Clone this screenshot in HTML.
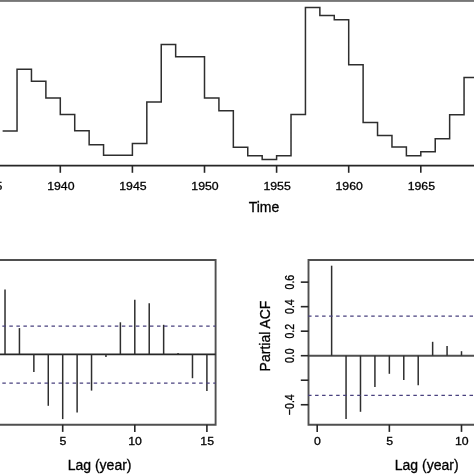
<!DOCTYPE html>
<html><head><meta charset="utf-8"><title>ts acf pacf</title>
<style>
html,body{margin:0;padding:0;background:#fff;width:474px;height:474px;overflow:hidden;}
svg{display:block;will-change:transform;filter:blur(0.3px);}
text{font-family:"Liberation Sans", sans-serif;fill:#000;stroke:#000;stroke-width:0.3px;}
</style></head><body>
<svg width="474" height="474" viewBox="0 0 474 474">
<rect x="0" y="0" width="474" height="1.9" fill="#767676"/>
<path d="M2.62 130.90 H17.04 V69.20 H31.46 V81.20 H45.88 V97.90 H60.30 V114.40 H74.72 V130.80 H89.14 V144.80 H103.56 V155.30 H117.98 V155.30 H132.40 V143.50 H146.82 V102.10 H161.24 V44.60 H175.66 V56.70 H190.08 V56.70 H204.50 V97.90 H218.92 V110.80 H233.34 V147.30 H247.76 V155.70 H262.18 V159.50 H276.60 V155.70 H291.02 V114.60 H305.44 V7.50 H319.86 V15.50 H334.28 V19.70 H348.70 V64.80 H363.12 V122.60 H377.54 V135.40 H391.96 V147.10 H406.38 V155.80 H420.80 V151.80 H435.22 V138.80 H449.64 V114.70 H464.06 V77.40 H478.48 V77.40 H492.90" fill="none" stroke="#2e2e2e" stroke-width="1.5" stroke-linejoin="miter" stroke-linecap="butt"/>
<line x1="0" y1="165.7" x2="474" y2="165.7" stroke="#262626" stroke-width="1.8"/>
<line x1="-11.80" y1="165.7" x2="-11.80" y2="172.8" stroke="#262626" stroke-width="1.6"/>
<text transform="translate(-11.30 189.8) scale(1.06 1)" font-size="11.6" text-anchor="middle">1935</text>
<line x1="60.30" y1="165.7" x2="60.30" y2="172.8" stroke="#262626" stroke-width="1.6"/>
<text transform="translate(60.80 189.8) scale(1.06 1)" font-size="11.6" text-anchor="middle">1940</text>
<line x1="132.40" y1="165.7" x2="132.40" y2="172.8" stroke="#262626" stroke-width="1.6"/>
<text transform="translate(132.90 189.8) scale(1.06 1)" font-size="11.6" text-anchor="middle">1945</text>
<line x1="204.50" y1="165.7" x2="204.50" y2="172.8" stroke="#262626" stroke-width="1.6"/>
<text transform="translate(205.00 189.8) scale(1.06 1)" font-size="11.6" text-anchor="middle">1950</text>
<line x1="276.60" y1="165.7" x2="276.60" y2="172.8" stroke="#262626" stroke-width="1.6"/>
<text transform="translate(277.10 189.8) scale(1.06 1)" font-size="11.6" text-anchor="middle">1955</text>
<line x1="348.70" y1="165.7" x2="348.70" y2="172.8" stroke="#262626" stroke-width="1.6"/>
<text transform="translate(349.20 189.8) scale(1.06 1)" font-size="11.6" text-anchor="middle">1960</text>
<line x1="420.80" y1="165.7" x2="420.80" y2="172.8" stroke="#262626" stroke-width="1.6"/>
<text transform="translate(421.30 189.8) scale(1.06 1)" font-size="11.6" text-anchor="middle">1965</text>
<text x="264.0" y="211.6" font-size="14.0" text-anchor="middle">Time</text>
<path d="M-30 260 H215.6 V424.8 H-30" fill="none" stroke="#4f4f4f" stroke-width="1.9"/>
<line x1="-30" y1="354.4" x2="215.6" y2="354.4" stroke="#262626" stroke-width="1.6"/>
<line x1="5.02" y1="354.4" x2="5.02" y2="289.4" stroke="#2e2e2e" stroke-width="1.5"/>
<line x1="19.44" y1="354.4" x2="19.44" y2="328.1" stroke="#2e2e2e" stroke-width="1.5"/>
<line x1="33.86" y1="354.4" x2="33.86" y2="372.1" stroke="#2e2e2e" stroke-width="1.5"/>
<line x1="48.28" y1="354.4" x2="48.28" y2="405.8" stroke="#2e2e2e" stroke-width="1.5"/>
<line x1="62.70" y1="354.4" x2="62.70" y2="419.1" stroke="#2e2e2e" stroke-width="1.5"/>
<line x1="77.12" y1="354.4" x2="77.12" y2="412.4" stroke="#2e2e2e" stroke-width="1.5"/>
<line x1="91.54" y1="354.4" x2="91.54" y2="390.6" stroke="#2e2e2e" stroke-width="1.5"/>
<line x1="105.96" y1="354.4" x2="105.96" y2="356.9" stroke="#2e2e2e" stroke-width="1.5"/>
<line x1="120.38" y1="354.4" x2="120.38" y2="322.3" stroke="#2e2e2e" stroke-width="1.5"/>
<line x1="134.80" y1="354.4" x2="134.80" y2="299.7" stroke="#2e2e2e" stroke-width="1.5"/>
<line x1="149.22" y1="354.4" x2="149.22" y2="303.3" stroke="#2e2e2e" stroke-width="1.5"/>
<line x1="163.64" y1="354.4" x2="163.64" y2="324.8" stroke="#2e2e2e" stroke-width="1.5"/>
<line x1="178.06" y1="354.4" x2="178.06" y2="353.0" stroke="#2e2e2e" stroke-width="1.5"/>
<line x1="192.48" y1="354.4" x2="192.48" y2="378.2" stroke="#2e2e2e" stroke-width="1.5"/>
<line x1="206.90" y1="354.4" x2="206.90" y2="391.0" stroke="#2e2e2e" stroke-width="1.5"/>
<line x1="-4.71" y1="326.0" x2="215.6" y2="326.0" stroke="#48407e" stroke-width="1.25" stroke-dasharray="3.5 3.53"/>
<line x1="-4.71" y1="383.0" x2="215.6" y2="383.0" stroke="#48407e" stroke-width="1.25" stroke-dasharray="3.5 3.53"/>
<line x1="62.70" y1="424.8" x2="62.70" y2="431.9" stroke="#262626" stroke-width="1.6"/>
<text transform="translate(63.00 445.2) scale(1.06 1)" font-size="11.6" text-anchor="middle">5</text>
<line x1="134.80" y1="424.8" x2="134.80" y2="431.9" stroke="#262626" stroke-width="1.6"/>
<text transform="translate(135.10 445.2) scale(1.06 1)" font-size="11.6" text-anchor="middle">10</text>
<line x1="206.90" y1="424.8" x2="206.90" y2="431.9" stroke="#262626" stroke-width="1.6"/>
<text transform="translate(207.20 445.2) scale(1.06 1)" font-size="11.6" text-anchor="middle">15</text>
<text x="99.6" y="469.9" font-size="14.0" text-anchor="middle">Lag (year)</text>
<path d="M480 260.0 H308.5 V424.8 H480" fill="none" stroke="#4f4f4f" stroke-width="1.9"/>
<line x1="308.5" y1="355.7" x2="480" y2="355.7" stroke="#4f4f4f" stroke-width="1.9"/>
<line x1="331.63" y1="355.7" x2="331.63" y2="265.7" stroke="#2e2e2e" stroke-width="1.5"/>
<line x1="346.06" y1="355.7" x2="346.06" y2="419.1" stroke="#2e2e2e" stroke-width="1.5"/>
<line x1="360.49" y1="355.7" x2="360.49" y2="411.8" stroke="#2e2e2e" stroke-width="1.5"/>
<line x1="374.92" y1="355.7" x2="374.92" y2="386.9" stroke="#2e2e2e" stroke-width="1.5"/>
<line x1="389.35" y1="355.7" x2="389.35" y2="373.8" stroke="#2e2e2e" stroke-width="1.5"/>
<line x1="403.78" y1="355.7" x2="403.78" y2="380.0" stroke="#2e2e2e" stroke-width="1.5"/>
<line x1="418.21" y1="355.7" x2="418.21" y2="385.2" stroke="#2e2e2e" stroke-width="1.5"/>
<line x1="432.64" y1="355.7" x2="432.64" y2="341.8" stroke="#2e2e2e" stroke-width="1.5"/>
<line x1="447.07" y1="355.7" x2="447.07" y2="346.1" stroke="#2e2e2e" stroke-width="1.5"/>
<line x1="461.50" y1="355.7" x2="461.50" y2="351.2" stroke="#2e2e2e" stroke-width="1.5"/>
<line x1="308.05" y1="316.2" x2="480" y2="316.2" stroke="#48407e" stroke-width="1.25" stroke-dasharray="3.5 3.52"/>
<line x1="308.05" y1="395.4" x2="480" y2="395.4" stroke="#48407e" stroke-width="1.25" stroke-dasharray="3.5 3.52"/>
<line x1="300.8" y1="282.14" x2="308.5" y2="282.14" stroke="#262626" stroke-width="1.6"/>
<text x="0" y="0" font-size="11.6" text-anchor="middle" transform="translate(294.3 282.14) rotate(-90) scale(0.91 1.1)">0.6</text>
<line x1="300.8" y1="306.66" x2="308.5" y2="306.66" stroke="#262626" stroke-width="1.6"/>
<text x="0" y="0" font-size="11.6" text-anchor="middle" transform="translate(294.3 306.66) rotate(-90) scale(0.91 1.1)">0.4</text>
<line x1="300.8" y1="331.18" x2="308.5" y2="331.18" stroke="#262626" stroke-width="1.6"/>
<text x="0" y="0" font-size="11.6" text-anchor="middle" transform="translate(294.3 331.18) rotate(-90) scale(0.91 1.1)">0.2</text>
<line x1="300.8" y1="355.70" x2="308.5" y2="355.70" stroke="#262626" stroke-width="1.6"/>
<text x="0" y="0" font-size="11.6" text-anchor="middle" transform="translate(294.3 355.70) rotate(-90) scale(0.91 1.1)">0.0</text>
<line x1="300.8" y1="380.22" x2="308.5" y2="380.22" stroke="#262626" stroke-width="1.6"/>
<line x1="300.8" y1="404.74" x2="308.5" y2="404.74" stroke="#262626" stroke-width="1.6"/>
<text x="0" y="0" font-size="11.6" text-anchor="middle" transform="translate(294.3 404.74) rotate(-90) scale(0.91 1.1)">−0.4</text>
<text x="0" y="0" font-size="14.0" text-anchor="middle" transform="translate(269.7 336.0) rotate(-90)">Partial ACF</text>
<line x1="317.20" y1="424.8" x2="317.20" y2="431.9" stroke="#262626" stroke-width="1.6"/>
<text transform="translate(317.50 445.2) scale(1.06 1)" font-size="11.6" text-anchor="middle">0</text>
<line x1="389.35" y1="424.8" x2="389.35" y2="431.9" stroke="#262626" stroke-width="1.6"/>
<text transform="translate(389.65 445.2) scale(1.06 1)" font-size="11.6" text-anchor="middle">5</text>
<line x1="461.50" y1="424.8" x2="461.50" y2="431.9" stroke="#262626" stroke-width="1.6"/>
<text transform="translate(461.80 445.2) scale(1.06 1)" font-size="11.6" text-anchor="middle">10</text>
<text x="426.7" y="469.9" font-size="14.0" text-anchor="middle">Lag (year)</text>
</svg>
</body></html>
